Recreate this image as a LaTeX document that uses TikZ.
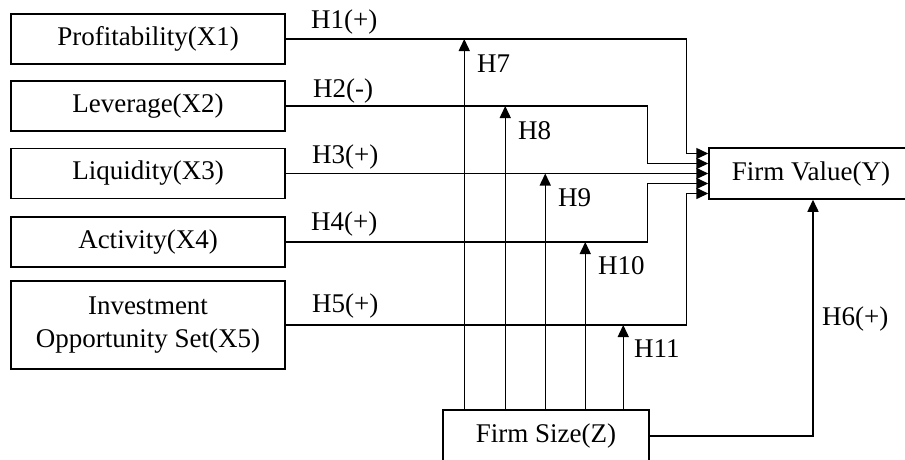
\documentclass[tikz,border=0pt]{standalone}
\usepackage{fontspec}
\setmainfont{Liberation Serif}
\usetikzlibrary{arrows.meta}
\begin{document}
\begin{tikzpicture}[x=1pt,y=-1pt,
  box/.style={draw,line width=1.5pt,inner sep=0pt,minimum width=274pt,minimum height=50pt,align=center,font=\fontsize{27}{33}\selectfont},
  conn/.style={line width=1.5pt},
  arr/.style={line width=1.5pt,-{Triangle[length=12pt,width=11pt]}},
  lbl/.style={font=\fontsize{27}{33}\selectfont,inner sep=0pt,anchor=west}]
\useasboundingbox (0,0) rectangle (905,459);
\node[box] (x1) at (148,39) {Profitability(X1)};
\node[box] (x2) at (148,106) {Leverage(X2)};
\node[box] (x3) at (148,173.5) {Liquidity(X3)};
\node[box] (x4) at (148,242) {Activity(X4)};
\node[box,minimum height=88pt] (x5) at (148,325) {Investment\\Opportunity Set(X5)};
\node[box,minimum width=204pt,minimum height=51pt] (fv) at (811,173.5) {Firm Value(Y)};
\node[box,minimum width=206pt,minimum height=52pt] (fs) at (546,436) {Firm Size(Z)};
% end points on Firm Value
\path (fv.west) ++(0,-20) coordinate (e1);
\path (fv.west) ++(0,-10) coordinate (e2);
\path (fv.west) coordinate (e3);
\path (fv.west) ++(0,10) coordinate (e4);
\path (fv.west) ++(0,20) coordinate (e5);
\draw[arr] (x1.east) -| ([xshift=-22pt]e1) -- (e1);
\draw[arr] (x2.east) -| ([xshift=-61pt]e2) -- (e2);
\draw[arr] (x3.east) -- (e3);
\draw[arr] (x4.east) -| ([xshift=-61pt]e4) -- (e4);
\draw[arr] (x5.east) -| ([xshift=-22pt]e5) -- (e5);
% moderating arrows
\path (fs.north west) ++(22,0) coordinate (s1);
\path (fs.north west) ++(63,0) coordinate (s2);
\path (fs.north west) ++(103,0) coordinate (s3);
\path (fs.north west) ++(143,0) coordinate (s4);
\path (fs.north west) ++(181,0) coordinate (s5);
\draw[arr] (s1) -- (s1 |- x1.east);
\draw[arr] (s2) -- (s2 |- x2.east);
\draw[arr] (s3) -- (s3 |- x3.east);
\draw[arr] (s4) -- (s4 |- x4.east);
\draw[arr] (s5) -- (s5 |- x5.east);
% direct effect of Z
\draw[arr] (fs.east) -| ([xshift=2pt]fv.south);
% labels
\node[lbl] at (311,22) {H1(+)};
\node[lbl] at (313,91) {H2(-)};
\node[lbl] at (312,157) {H3(+)};
\node[lbl] at (311,224) {H4(+)};
\node[lbl] at (312,306) {H5(+)};
\node[lbl] at (822,319) {H6(+)};
\node[lbl] at (477,64) {H7};
\node[lbl] at (518,131) {H8};
\node[lbl] at (558,198) {H9};
\node[lbl] at (598,266) {H10};
\node[lbl] at (634,349) {H11};
\end{tikzpicture}
\end{document}
